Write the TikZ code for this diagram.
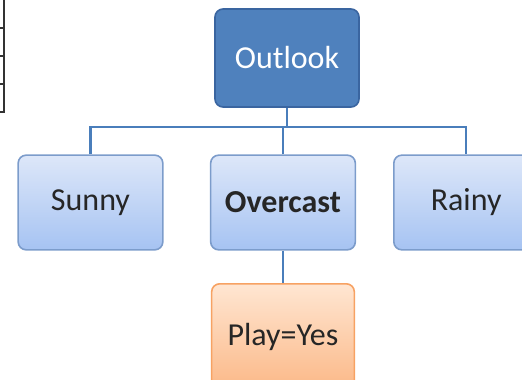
\documentclass[tikz,border=0pt]{standalone}
\usepackage{fontspec}
\setmainfont{Carlito}
\definecolor{darkfill}{HTML}{4F81BD}
\definecolor{darkedge}{HTML}{3A65A0}
\definecolor{lbtop}{HTML}{DDE7F9}
\definecolor{lbbot}{HTML}{A6C3F2}
\definecolor{lbedge}{HTML}{7C9CCB}
\definecolor{ortop}{HTML}{FFE6D2}
\definecolor{orbot}{HTML}{FBB887}
\definecolor{oredge}{HTML}{F7A263}
\definecolor{linkc}{HTML}{4A7EBB}
\tikzset{
  x=0.75pt, y=-0.75pt,
  basebox/.style={rounded corners=6pt, line width=1.2pt, font=\fontsize{24}{28}\selectfont, inner sep=0pt},
  rootbox/.style={basebox, draw=darkedge, fill=darkfill, text=white, minimum width=108pt, minimum height=73.5pt},
  leafbox/.style={basebox, draw=lbedge, top color=lbtop, bottom color=lbbot, text=black!85, minimum width=108.5pt, minimum height=71pt},
  playbox/.style={basebox, draw=oredge, top color=ortop, bottom color=orbot, text=black!85, minimum width=107pt, minimum height=80pt},
  link/.style={draw=linkc, line width=1.6pt},
  tableline/.style={draw=black!80, line width=1.2pt}
}
\begin{document}
\begin{tikzpicture}
\useasboundingbox (0,0) rectangle (522,379);
\clip (0,0) rectangle (522,379);
% table fragment at left edge
\draw[tableline] (4,0) -- (4,112);
\foreach \yy in {28,56,84,112} \draw[tableline] (0,\yy) -- (5,\yy);
% nodes
\node[rootbox] (out) at (287,58) {Outlook};
\node[leafbox] (sunny) at (90.5,202.5) {Sunny};
\node[leafbox] (over) at (283,202.5) {\bfseries Overcast};
\node[leafbox, anchor=west] (rainy) at (393,202.5) {Rainy};
\node[playbox, anchor=north] (play) at (283,283) {Play=Yes};
% connectors
\coordinate (j) at (287,127);
\draw[link] (out.south) -- (j);
\draw[link] (sunny.north) |- (j) -| (rainy.north);
\draw[link] (over.north) -- (over.north |- j);
\draw[link] (over.south) -- (play.north);
\end{tikzpicture}
\end{document}
